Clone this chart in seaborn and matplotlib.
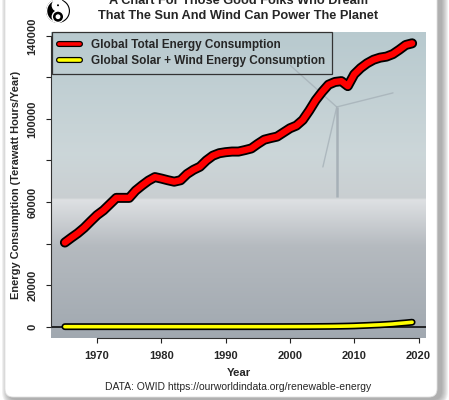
import numpy as np
import pandas as pd
import matplotlib
matplotlib.use('Agg')
import matplotlib.pyplot as plt
import matplotlib.patheffects as pe
from matplotlib.patches import FancyBboxPatch, Circle, Wedge
from matplotlib.transforms import IdentityTransform
from matplotlib.lines import Line2D
import seaborn as sns

# values (TWh / year)
years = list(range(1965, 2020))
total_energy = [40500, 42800, 45000, 47600, 50700, 53700, 56000, 59000, 62000, 62000,
                62000, 65500, 68000, 70300, 72000, 71300, 70500, 69800, 70500, 73500,
                75500, 77000, 80000, 82300, 83500, 84000, 84300, 84300, 85000, 85800,
                88000, 90000, 90800, 91500, 93500, 95500, 96800, 99500, 104000, 109000,
                113000, 116500, 117800, 118200, 115800, 121500, 124500, 126800, 128500, 129500,
                130000, 131200, 133300, 135600, 136400]
solar_wind = [0, 0, 0, 0, 0, 0, 0, 0, 0, 0,
              0, 0, 0, 0, 0, 0, 0, 0, 0, 1,
              1, 1, 2, 3, 3, 4, 4, 5, 6, 7,
              8, 10, 12, 16, 21, 32, 39, 53, 64, 86,
              108, 137, 178, 232, 293, 374, 499, 620, 768, 896,
              1087, 1285, 1579, 1837, 2144]

labels = ['Global Total Energy Consumption', 'Global Solar + Wind Energy Consumption']
title_lines = ['A Chart For Those Good Folks Who Dream',
               'That The Sun And Wind Can Power The Planet']
caption = 'DATA: OWID https://ourworldindata.org/renewable-energy'

df = pd.DataFrame({'year': years, 'total': total_energy, 'solar_wind': solar_wind})

sns.set_style('ticks')
plt.rcParams['font.family'] = ['Liberation Sans', 'DejaVu Sans']

W, H = 449, 400
fig = plt.figure(figsize=(W / 100, H / 100), dpi=100)
fig.patch.set_facecolor('white')

# white card with soft shadow
for i in range(7, 0, -1):
    fig.patches.append(FancyBboxPatch((5 + 4 - i, 3 - 2 - i), 432 + 2 * i, 420 + 2 * i,
                                      boxstyle='round,pad=0,rounding_size=%d' % (8 + i),
                                      transform=IdentityTransform(), facecolor='#707070',
                                      edgecolor='none', alpha=0.1, zorder=-3))
fig.patches.append(FancyBboxPatch((5, 3), 432, 420, boxstyle='round,pad=0,rounding_size=8',
                                  transform=IdentityTransform(), facecolor='white',
                                  edgecolor='#e0e0e0', lw=0.6, zorder=-2))

ax = fig.add_axes([51 / W, 62 / H, 375 / W, 306 / H])

# photo-like background: sky over sea (vertical colour ramp, axes fraction -> rgb)
stops = [0.0, 0.30, 0.452, 0.4575, 0.60, 1.0]
ramp = [(0.63, 0.66, 0.69), (0.71, 0.73, 0.75), (0.87, 0.88, 0.89),
        (0.79, 0.81, 0.82), (0.80, 0.84, 0.85), (0.72, 0.79, 0.81)]
n = 400
f = 1 - (np.arange(n) + 0.5) / n
bg = np.stack([np.interp(f, stops, [c[k] for c in ramp]) for k in range(3)], axis=-1)
bg = bg[:, None, :]
ax.imshow(bg, extent=[0, 1, 0, 1], transform=ax.transAxes, aspect='auto', zorder=0,
          interpolation='bilinear')

# faint wind turbine in the background
hub = (0.762, 0.755)
ax.plot([hub[0], hub[0]], [0.46, hub[1]], transform=ax.transAxes, color='#a3adb4', lw=1.8,
        alpha=0.9, zorder=1, solid_capstyle='butt')
for tip in [(0.637, 0.892), (0.912, 0.801), (0.725, 0.559)]:
    ax.plot([hub[0], tip[0]], [hub[1], tip[1]], transform=ax.transAxes, color='#a6b1b8',
            lw=1.0, alpha=0.8, zorder=1)

ax.axhline(0, color='black', lw=1.1, zorder=2)

outline = [pe.Stroke(linewidth=7.2, foreground='black'), pe.Normal()]
sns.lineplot(data=df, x='year', y='total', color='red', lw=4.6, ax=ax, zorder=4,
             path_effects=outline, solid_capstyle='round')
outline2 = [pe.Stroke(linewidth=5.0, foreground='black'), pe.Normal()]
sns.lineplot(data=df, x='year', y='solar_wind', color='#ffff00', lw=2.6, ax=ax, zorder=4,
             path_effects=outline2, solid_capstyle='round')

xr = max(years) - min(years)
ax.set_xlim(min(years) - 0.04 * xr, max(years) + 0.04 * xr)
yr = max(total_energy) - 0
ax.set_ylim(0 - 0.04 * yr, max(total_energy) + 0.04 * yr)

xticks = [1970, 1980, 1990, 2000, 2010, 2020]
yticks = list(range(0, 140001, 20000))
ylabels = ['0', '20000', '', '60000', '', '100000', '', '140000']
ax.set_xticks(xticks, [str(x) for x in xticks])
ax.set_yticks(yticks, ylabels)
ax.tick_params(direction='out', length=3.6, width=0.8, color='#222222', labelsize=8, pad=6)
plt.setp(ax.get_xticklabels(), fontweight='bold')
plt.setp(ax.get_yticklabels(), fontweight='bold', rotation=90, va='center')

for s in ['top', 'right']:
    ax.spines[s].set_visible(False)
ax.spines['left'].set_bounds(0, 140000)
ax.spines['bottom'].set_bounds(1970, 2020)
ax.spines['left'].set_color('#333333')
ax.spines['bottom'].set_color('#333333')

ax.set_xlabel('Year', fontweight='bold', fontsize=8.2, va='center')
ax.xaxis.set_label_coords(0.5, -0.114)
ax.set_ylabel('Energy Consumption (Terawatt Hours/Year)', fontweight='bold', fontsize=7.9,
              va='center')
ax.yaxis.set_label_coords(-0.093, 0.5)

handles = [Line2D([], [], color='red', lw=2.6, solid_capstyle='round',
                  path_effects=[pe.Stroke(linewidth=4.4, foreground='black'), pe.Normal()]),
           Line2D([], [], color='#ffff00', lw=2.6, solid_capstyle='round',
                  path_effects=[pe.Stroke(linewidth=4.4, foreground='black'), pe.Normal()])]
leg = ax.legend(handles, labels, loc='upper left', bbox_to_anchor=(0.003, 1.0),
                frameon=True, fancybox=False, edgecolor='#333333', facecolor='none',
                framealpha=1, prop={'weight': 'bold', 'size': 8.5}, handlelength=1.8,
                borderaxespad=0, labelspacing=0.35, borderpad=0.6, handletextpad=0.9)
leg.get_frame().set_linewidth(0.9)
leg.set_zorder(5)

cx = 238.5 / W
fig.text(cx, 1 - 0.5 / H, title_lines[0], ha='center', va='center', fontweight='bold', fontsize=9.2)
fig.text(cx, 1 - 16 / H, title_lines[1], ha='center', va='center', fontweight='bold', fontsize=9.2)
fig.text(cx, 1 - 386.7 / H, caption, ha='center', va='center', fontsize=7.5)

# small yin-yang logo at top left
lg = fig.add_axes([46 / W, 1 - 23 / H, 24 / W, 24 / H])
lg.set_xlim(-1.05, 1.05)
lg.set_ylim(-1.05, 1.05)
lg.set_aspect('equal')
lg.axis('off')
lg.add_patch(Circle((0, 0), 1, facecolor='white', edgecolor='black', lw=0.8))
lg.add_patch(Wedge((0, 0), 1, 90, 270, facecolor='black'))
lg.add_patch(Circle((0, 0.5), 0.5, facecolor='white'))
lg.add_patch(Circle((0, -0.5), 0.5, facecolor='black'))
lg.add_patch(Circle((0, 0.5), 0.15, facecolor='black'))
lg.add_patch(Circle((0, -0.5), 0.15, facecolor='white'))

fig.savefig('out.png', dpi=100)
